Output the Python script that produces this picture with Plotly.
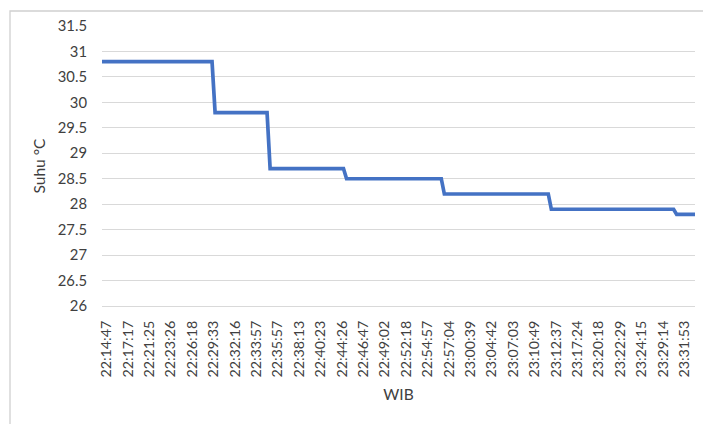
import plotly.graph_objects as go

# Temperature readings (°C), one per logged sample, in order
suhu = [
    30.8, 30.8, 30.8, 30.8, 30.8, 30.8, 30.8, 30.8, 30.8, 30.8,
    30.8, 30.8, 30.8, 30.8, 30.8, 30.8, 30.8, 30.8, 30.8, 30.8,
    30.8, 30.8, 30.8, 30.8, 30.8, 30.8, 30.8, 30.8, 30.8, 30.8,
    30.8, 30.8, 30.8, 30.8, 30.8, 30.8, 30.8,
    29.8, 29.8, 29.8, 29.8, 29.8, 29.8, 29.8, 29.8, 29.8, 29.8,
    29.8, 29.8, 29.8, 29.8, 29.8, 29.8, 29.8, 29.8,
    28.7, 28.7, 28.7, 28.7, 28.7, 28.7, 28.7, 28.7, 28.7, 28.7,
    28.7, 28.7, 28.7, 28.7, 28.7, 28.7, 28.7, 28.7, 28.7, 28.7,
    28.7, 28.7, 28.7, 28.7, 28.7,
    28.5, 28.5, 28.5, 28.5, 28.5, 28.5, 28.5, 28.5, 28.5, 28.5,
    28.5, 28.5, 28.5, 28.5, 28.5, 28.5, 28.5, 28.5, 28.5, 28.5,
    28.5, 28.5, 28.5, 28.5, 28.5, 28.5, 28.5, 28.5, 28.5, 28.5,
    28.5, 28.5,
    28.2, 28.2, 28.2, 28.2, 28.2, 28.2, 28.2, 28.2, 28.2, 28.2,
    28.2, 28.2, 28.2, 28.2, 28.2, 28.2, 28.2, 28.2, 28.2, 28.2,
    28.2, 28.2, 28.2, 28.2, 28.2, 28.2, 28.2, 28.2, 28.2, 28.2,
    28.2, 28.2, 28.2, 28.2, 28.2,
    27.9, 27.9, 27.9, 27.9, 27.9, 27.9, 27.9, 27.9, 27.9, 27.9,
    27.9, 27.9, 27.9, 27.9, 27.9, 27.9, 27.9, 27.9, 27.9, 27.9,
    27.9, 27.9, 27.9, 27.9, 27.9, 27.9, 27.9, 27.9, 27.9, 27.9,
    27.9, 27.9, 27.9, 27.9, 27.9, 27.9, 27.9, 27.9, 27.9, 27.9,
    27.9,
    27.8, 27.8, 27.8, 27.8, 27.8, 27.8, 27.8,
]

# Time labels (WIB) shown on the category axis, one every 7 samples
waktu_labels = [
    "22:14:47", "22:17:17", "22:21:25", "22:23:26", "22:26:18", "22:29:33",
    "22:32:16", "22:33:57", "22:35:57", "22:38:13", "22:40:23", "22:44:26",
    "22:46:47", "22:49:02", "22:52:18", "22:54:57", "22:57:04", "23:00:39",
    "23:04:42", "23:07:03", "23:10:49", "23:12:37", "23:17:24", "23:20:18",
    "23:22:29", "23:24:15", "23:29:14", "23:31:53",
]
label_interval = 7

y_ticks = [26, 26.5, 27, 27.5, 28, 28.5, 29, 29.5, 30, 30.5, 31, 31.5]
y_ticktext = ["26", "26.5", "27", "27.5", "28", "28.5", "29", "29.5", "30", "30.5", "31", "31.5"]

sample_idx = list(range(len(suhu)))
label_shift = 1.5  # visual offset of the rotated labels, in samples
label_idx = [i * label_interval + label_shift for i in range(len(waktu_labels))]

FONT = "Lato, 'Open Sans', sans-serif"
TXT = "#404040"
GRID = "#d9d9d9"

fig = go.Figure()
fig.add_trace(go.Scatter(
    x=sample_idx, y=suhu, mode="lines",
    line=dict(color="#4472C4", width=3.7),
    hoverinfo="y", showlegend=False,
))

fig.update_layout(
    width=703, height=424, autosize=False,
    margin=dict(l=102, r=8, t=26, b=118, autoexpand=False),
    paper_bgcolor="white", plot_bgcolor="white",
    font=dict(family=FONT, size=15, color=TXT),
    xaxis=dict(
        range=[0, len(suhu) - 1],
        tickmode="array", tickvals=label_idx, ticktext=waktu_labels,
        tickangle=-90, showgrid=False, zeroline=False,
        showline=True, linecolor=GRID, linewidth=1,
        ticks="", ticklabelstandoff=8, automargin=False,
        tickfont=dict(family=FONT, size=14.3, color=TXT),
        title=dict(text="WIB", standoff=12,
                   font=dict(family=FONT, size=15.5, color=TXT)),
    ),
    yaxis=dict(
        range=[26, 31.5],
        tickmode="array", tickvals=y_ticks, ticktext=y_ticktext,
        showgrid=True, gridcolor=GRID, gridwidth=1,
        zeroline=False, showline=False, ticks="",
        ticklabelstandoff=14, automargin=False,
        tickfont=dict(family=FONT, size=14.8, color=TXT),
        title=dict(text="Suhu °C", standoff=8,
                   font=dict(family=FONT, size=15.5, color=TXT)),
    ),
    shapes=[dict(
        type="rect", xref="paper", yref="paper",
        x0=-(102 - 10) / 593, x1=1.05,
        y0=-0.5, y1=(306 - 11) / 280,
        line=dict(color="#d0d0d0", width=1.3), fillcolor="rgba(0,0,0,0)",
        layer="above",
    )],
)

fig.write_html(
    "out.html",
    config={"displayModeBar": False},
    post_script="document.body.style.margin='0';document.body.style.overflow='hidden';",
)
